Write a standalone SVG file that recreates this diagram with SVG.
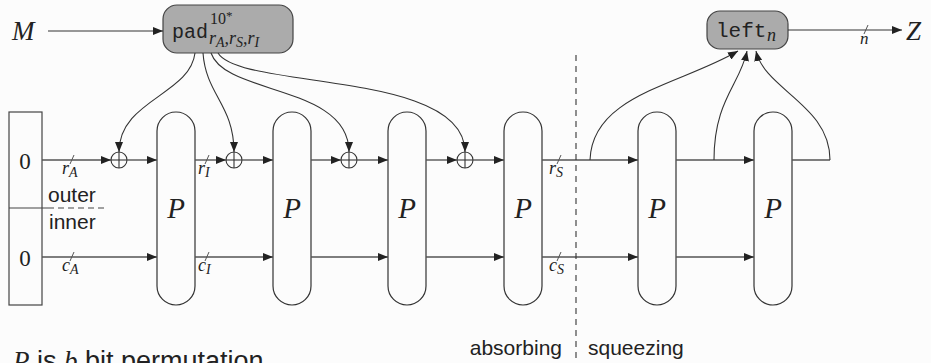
<svg xmlns="http://www.w3.org/2000/svg" width="931" height="363" viewBox="0 0 931 363">
<defs>
<marker id="ah" viewBox="0 0 10 8" refX="10" refY="4" markerWidth="10" markerHeight="8" markerUnits="userSpaceOnUse" orient="auto">
<path d="M0,0 L10,4 L0,8 z" fill="#222"/>
</marker>
<style>
.w{stroke:#555;stroke-width:1.4;fill:none}
.c{stroke:#333;stroke-width:1.1;fill:none}
.box{fill:#ababab;stroke:#444;stroke-width:1.2}
.perm{fill:none;stroke:#333;stroke-width:1.2}
.mi{font-family:"Liberation Serif",serif;font-style:italic;fill:#222}
.rm{font-family:"Liberation Serif",serif;fill:#222}
.ss{font-family:"Liberation Sans",sans-serif;fill:#222}
.tt{font-family:"Liberation Mono",monospace;fill:#222}
.sl{stroke:#555;stroke-width:1}
.x{fill:none;stroke:#333;stroke-width:1.1}
</style>
</defs>
<rect width="931" height="363" fill="#fcfcfc"/>

<g id="state">
<rect x="9" y="112" width="33" height="193" fill="none" stroke="#444" stroke-width="1.2"/>
<line x1="9" y1="208" x2="48" y2="208" stroke="#444" stroke-width="1.2"/>
<line x1="48" y1="208" x2="104" y2="208" stroke="#444" stroke-width="1.1" stroke-dasharray="6,4"/>
<text class="rm" x="25" y="169" font-size="23" text-anchor="middle">0</text>
<text class="rm" x="25" y="266" font-size="23" text-anchor="middle">0</text>
<text class="ss" x="48" y="202" font-size="21">outer</text>
<text class="ss" x="49" y="229" font-size="21">inner</text>
</g>

<g id="pad">
<rect class="box" x="163" y="5" width="130" height="48" rx="14"/>
<text class="tt" x="172" y="38" font-size="20">pad</text>
<text class="rm" x="210" y="24" font-size="16">10<tspan font-size="13" dy="-4">*</tspan></text>
<text class="mi" x="209" y="44" font-size="18">r<tspan font-size="14" dy="3">A</tspan><tspan dy="-3">,r</tspan><tspan font-size="14" dy="3">S</tspan><tspan dy="-3">,r</tspan><tspan font-size="14" dy="3">I</tspan></text>
</g>

<g id="left">
<rect class="box" x="707" y="11" width="81" height="38" rx="13"/>
<text class="tt" x="716" y="37" font-size="21">left</text>
<text class="mi" x="767" y="41" font-size="18">n</text>
</g>

<g id="P1"><rect class="perm" x="157" y="112" width="38" height="193" rx="19"/><text class="mi" x="176" y="218" font-size="29" text-anchor="middle">P</text></g>
<g id="P2"><rect class="perm" x="273" y="112" width="38" height="193" rx="19"/><text class="mi" x="292" y="218" font-size="29" text-anchor="middle">P</text></g>
<g id="P3"><rect class="perm" x="388" y="112" width="38" height="193" rx="19"/><text class="mi" x="407" y="218" font-size="29" text-anchor="middle">P</text></g>
<g id="P4"><rect class="perm" x="504" y="112" width="38" height="193" rx="19"/><text class="mi" x="523" y="218" font-size="29" text-anchor="middle">P</text></g>
<g id="P5"><rect class="perm" x="638" y="112" width="38" height="193" rx="19"/><text class="mi" x="657" y="218" font-size="29" text-anchor="middle">P</text></g>
<g id="P6"><rect class="perm" x="754" y="112" width="38" height="193" rx="19"/><text class="mi" x="773" y="218" font-size="29" text-anchor="middle">P</text></g>

<g id="xors">
<g class="x"><circle cx="119" cy="160" r="8"/><line x1="111" y1="160" x2="127" y2="160"/><line x1="119" y1="152" x2="119" y2="168"/></g>
<g class="x"><circle cx="234" cy="160" r="8"/><line x1="226" y1="160" x2="242" y2="160"/><line x1="234" y1="152" x2="234" y2="168"/></g>
<g class="x"><circle cx="349" cy="160" r="8"/><line x1="341" y1="160" x2="357" y2="160"/><line x1="349" y1="152" x2="349" y2="168"/></g>
<g class="x"><circle cx="465" cy="160" r="8"/><line x1="457" y1="160" x2="473" y2="160"/><line x1="465" y1="152" x2="465" y2="168"/></g>
</g>

<g id="connectors">
<line class="c" x1="48" y1="31" x2="163" y2="31" marker-end="url(#ah)"/>
<line class="c" x1="788" y1="30" x2="902" y2="30" marker-end="url(#ah)"/>
<line class="w" x1="42" y1="160" x2="111" y2="160" marker-end="url(#ah)"/>
<line class="w" x1="127" y1="160" x2="157" y2="160" marker-end="url(#ah)"/>
<line class="w" x1="195" y1="160" x2="226" y2="160" marker-end="url(#ah)"/>
<line class="w" x1="242" y1="160" x2="273" y2="160" marker-end="url(#ah)"/>
<line class="w" x1="311" y1="160" x2="341" y2="160" marker-end="url(#ah)"/>
<line class="w" x1="357" y1="160" x2="388" y2="160" marker-end="url(#ah)"/>
<line class="w" x1="426" y1="160" x2="457" y2="160" marker-end="url(#ah)"/>
<line class="w" x1="473" y1="160" x2="504" y2="160" marker-end="url(#ah)"/>
<line class="w" x1="542" y1="160" x2="638" y2="160" marker-end="url(#ah)"/>
<line class="w" x1="676" y1="160" x2="754" y2="160" marker-end="url(#ah)"/>
<line class="w" x1="792" y1="160" x2="830" y2="160"/>
<line class="w" x1="42" y1="257" x2="157" y2="257" marker-end="url(#ah)"/>
<line class="w" x1="195" y1="257" x2="273" y2="257" marker-end="url(#ah)"/>
<line class="w" x1="311" y1="257" x2="388" y2="257" marker-end="url(#ah)"/>
<line class="w" x1="426" y1="257" x2="504" y2="257" marker-end="url(#ah)"/>
<line class="w" x1="542" y1="257" x2="638" y2="257" marker-end="url(#ah)"/>
<line class="w" x1="676" y1="257" x2="754" y2="257" marker-end="url(#ah)"/>

<path class="c" d="M195,53 C190,95 119,100 119,152" marker-end="url(#ah)"/>
<path class="c" d="M203,53 C206,95 234,105 234,152" marker-end="url(#ah)"/>
<path class="c" d="M211,53 C225,95 349,85 349,152" marker-end="url(#ah)"/>
<path class="c" d="M218,53 C240,90 465,70 465,152" marker-end="url(#ah)"/>

<path class="c" d="M590,160 C592,95 680,85 738,51" marker-end="url(#ah)"/>
<path class="c" d="M714,160 C714,100 740,85 747,51" marker-end="url(#ah)"/>
<path class="c" d="M830,160 C830,105 765,90 756,51" marker-end="url(#ah)"/>

<line x1="576" y1="55" x2="576" y2="363" stroke="#333" stroke-width="1.1" stroke-dasharray="6,5"/>

<line class="sl" x1="70" y1="164" x2="74" y2="155"/>
<line class="sl" x1="205" y1="164" x2="209" y2="155"/>
<line class="sl" x1="557" y1="164" x2="561" y2="155"/>
<line class="sl" x1="70" y1="261" x2="74" y2="252"/>
<line class="sl" x1="205" y1="261" x2="209" y2="252"/>
<line class="sl" x1="557" y1="261" x2="561" y2="252"/>
<line class="sl" x1="864" y1="34" x2="868" y2="25"/>
</g>

<g id="labels">
<text class="mi" x="62" y="174" font-size="18">r<tspan font-size="14" dy="3">A</tspan></text>
<text class="mi" x="198" y="174" font-size="18">r<tspan font-size="14" dy="3">I</tspan></text>
<text class="mi" x="549" y="174" font-size="18">r<tspan font-size="14" dy="3">S</tspan></text>
<text class="mi" x="62" y="271" font-size="18">c<tspan font-size="14" dy="3">A</tspan></text>
<text class="mi" x="198" y="271" font-size="18">c<tspan font-size="14" dy="3">I</tspan></text>
<text class="mi" x="549" y="271" font-size="18">c<tspan font-size="14" dy="3">S</tspan></text>
<text class="mi" x="860" y="44" font-size="17">n</text>
<text class="mi" x="12" y="40" font-size="27">M</text>
<text class="mi" x="906" y="40" font-size="27">Z</text>
<text class="ss" x="562" y="355" font-size="21" text-anchor="end">absorbing</text>
<text class="ss" x="588" y="355" font-size="21">squeezing</text>
<text x="13" y="370" font-size="27"><tspan class="mi">P</tspan><tspan class="ss"> is </tspan><tspan class="mi">b</tspan><tspan class="ss"> bit permutation</tspan></text>
</g>
</svg>
